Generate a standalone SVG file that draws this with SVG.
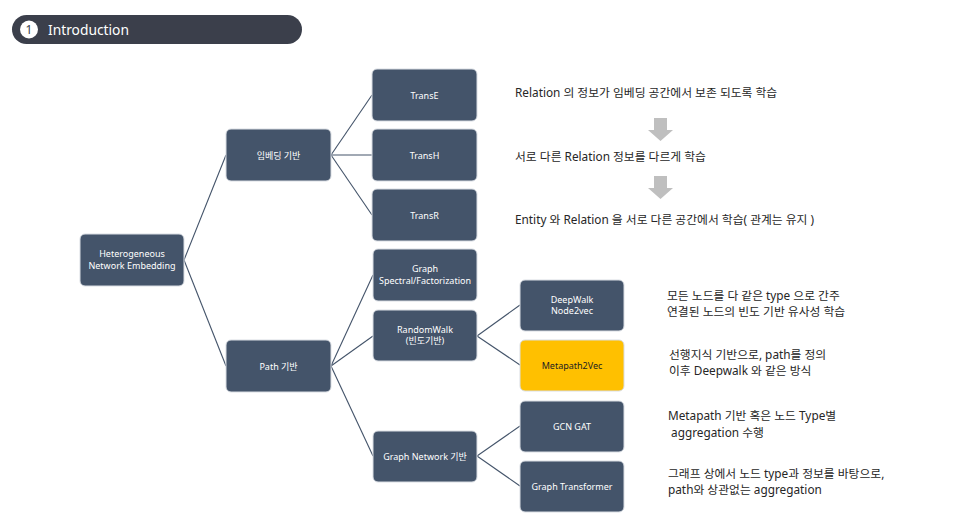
<svg xmlns="http://www.w3.org/2000/svg" width="954" height="522" viewBox="0 0 954 522">
<style>
.node rect{fill:#44546a;stroke:#d9dde3;stroke-width:1}
.node text{fill:#ffffff;font-family:"Noto Sans","Noto Sans CJK KR",sans-serif;font-size:9px;text-anchor:middle}
.hl rect{fill:#ffc000}
.hl text{fill:#222222}
.conn line{stroke:#44546a;stroke-width:1.1}
.desc{font-family:"Noto Sans","Noto Sans CJK KR",sans-serif;font-size:11.8px;fill:#262626}
.garrow{fill:#bfbfbf}
</style>
<rect width="954" height="522" fill="#ffffff"/>
<g id="title">
<rect x="12" y="15" width="290" height="29" rx="14.5" fill="#3b3f4b"/>
<circle cx="29" cy="29.5" r="9" fill="#ffffff"/>
<text x="29" y="34" font-family="Noto Sans,sans-serif" font-size="12" fill="#3b3f4b" text-anchor="middle">1</text>
<text x="48" y="35" font-family="Noto Sans,sans-serif" font-size="15" fill="#ffffff" textLength="81" lengthAdjust="spacingAndGlyphs">Introduction</text>
</g>
<g class="conn">
<line x1="184" y1="260" x2="226" y2="155"/>
<line x1="184" y1="260" x2="226" y2="366"/>
<line x1="331" y1="155" x2="372" y2="95"/>
<line x1="331" y1="155" x2="372" y2="155"/>
<line x1="331" y1="155" x2="372" y2="215"/>
<line x1="331" y1="366" x2="373" y2="275"/>
<line x1="331" y1="366" x2="373" y2="336"/>
<line x1="331" y1="366" x2="373" y2="456"/>
<line x1="477" y1="336" x2="520" y2="305"/>
<line x1="477" y1="336" x2="520" y2="365"/>
<line x1="477" y1="456" x2="520" y2="426"/>
<line x1="477" y1="456" x2="520" y2="486"/>
</g>
<g id="hne" class="node"><rect x="80" y="234" width="104" height="52" rx="5"/><text x="132" y="257">Heterogeneous</text><text x="132" y="268.5">Network Embedding</text></g>
<g id="embed" class="node"><rect x="226" y="129" width="105" height="52" rx="5"/><text x="278.5" y="158.5">임베딩 기반</text></g>
<g id="path" class="node"><rect x="226" y="340" width="105" height="52" rx="5"/><text x="278.5" y="369.5">Path 기반</text></g>
<g id="transe" class="node"><rect x="372" y="69" width="105" height="52" rx="5"/><text x="424.5" y="98.5">TransE</text></g>
<g id="transh" class="node"><rect x="372" y="129" width="105" height="52" rx="5"/><text x="424.5" y="158.5">TransH</text></g>
<g id="transr" class="node"><rect x="372" y="189" width="105" height="52" rx="5"/><text x="424.5" y="218.5">TransR</text></g>
<g id="spectral" class="node"><rect x="373" y="249" width="104" height="52" rx="5"/><text x="425" y="272">Graph</text><text x="425" y="283.5">Spectral/Factorization</text></g>
<g id="randomwalk" class="node"><rect x="373" y="310" width="104" height="51" rx="5"/><text x="425" y="332.5">RandomWalk</text><text x="425" y="344">(빈도기반)</text></g>
<g id="graphnet" class="node"><rect x="373" y="431" width="104" height="51" rx="5"/><text x="425" y="459.5">Graph Network 기반</text></g>
<g id="deepwalk" class="node"><rect x="520" y="280" width="104" height="51" rx="5"/><text x="572" y="302.5">DeepWalk</text><text x="572" y="314">Node2vec</text></g>
<g id="metapath" class="node hl"><rect x="520" y="340" width="104" height="51" rx="5"/><text x="572" y="368.5">Metapath2Vec</text></g>
<g id="gcn" class="node"><rect x="520" y="401" width="104" height="51" rx="5"/><text x="572" y="429.5">GCN GAT</text></g>
<g id="gtrans" class="node"><rect x="520" y="461" width="104" height="51" rx="5"/><text x="572" y="489.5">Graph Transformer</text></g>
<g id="notes">
<text class="desc" x="515" y="97">Relation 의 정보가 임베딩 공간에서 보존 되도록 학습</text>
<path class="garrow" d="M654,118 H667 V130 H673 L660.5,141 L648,130 H654 Z"/>
<text class="desc" x="515" y="161">서로 다른 Relation 정보를 다르게 학습</text>
<path class="garrow" d="M654,176 H667 V188 H673 L660.5,199 L648,188 H654 Z"/>
<text class="desc" x="515" y="224">Entity 와 Relation 을 서로 다른 공간에서 학습( 관계는 유지 )</text>
<text class="desc" x="667" y="300">모든 노드를 다 같은 type 으로 간주</text>
<text class="desc" x="667" y="316">연결된 노드의 빈도 기반 유사성 학습</text>
<text class="desc" x="669" y="359">선행지식 기반으로, path를 정의</text>
<text class="desc" x="669" y="375">이후 Deepwalk 와 같은 방식</text>
<text class="desc" x="668" y="420">Metapath 기반 혹은 노드 Type별</text>
<text class="desc" x="668" y="437" xml:space="preserve"> aggregation 수행</text>
<text class="desc" x="668" y="478">그래프 상에서 노드 type과 정보를 바탕으로,</text>
<text class="desc" x="668" y="494">path와 상관없는 aggregation</text>
</g>
</svg>
